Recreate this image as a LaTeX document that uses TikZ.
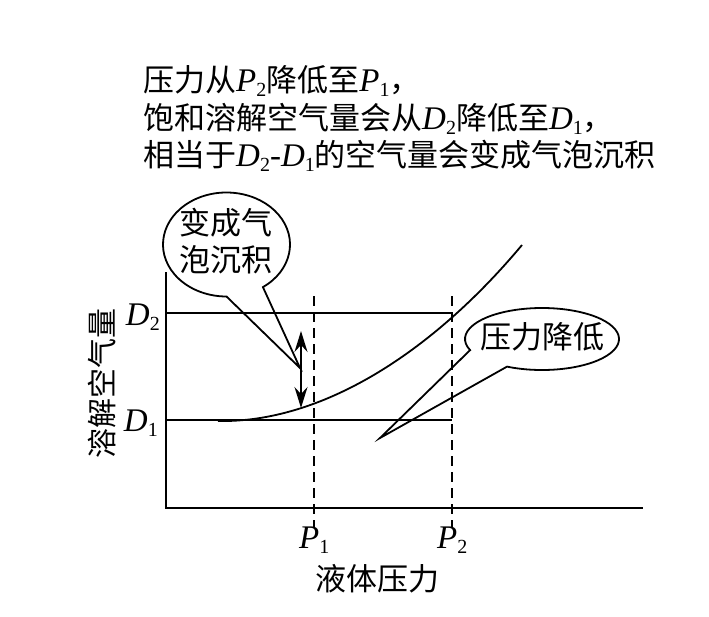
\documentclass[tikz,border=0pt]{standalone}
\usepackage{fontspec}
\setmainfont{Noto Sans CJK SC}
\newfontfamily\lsf{Liberation Serif}
\usetikzlibrary{arrows.meta}
\newcommand\vv[2]{{\lsf\itshape\fontsize{33}{33}\selectfont #1}\raisebox{-5pt}{\lsf\fontsize{20}{20}\selectfont #2}}
\begin{document}
\begin{tikzpicture}[x=1pt,y=1pt,
  every node/.style={inner sep=0pt,font=\fontsize{31}{37}\selectfont},
  axisline/.style={line width=1.8pt},
  guide/.style={line width=1.8pt,dash pattern=on 10pt off 6pt},
  bubble/.style={line width=1.8pt,line join=miter},
  dbl/.style={line width=1.8pt,{Stealth[length=21pt,width=13pt,inset=7pt]}-{Stealth[length=21pt,width=13pt,inset=7pt]}}]
\useasboundingbox (0,0) rectangle (709,-616);
% text above
\node[anchor=base west] (t1) at (143,-91) {压力从\vv{P}{2}降低至\vv{P}{1}，};
\node[anchor=base west] (t2) at (143,-129) {饱和溶解空气量会从\vv{D}{2}降低至\vv{D}{1}，};
\node[anchor=base west] (t3) at (143,-166) {相当于\vv{D}{2}{\lsf\fontsize{33}{33}\selectfont -}\vv{D}{1}的空气量会变成气泡沉积};
% axes
\coordinate (O) at (166,-508);
\coordinate (ytop) at (166,-272);
\coordinate (xend) at (643,-508);
\draw[axisline] (ytop) -- (O) -- (xend);
% levels
\coordinate (d2a) at (166,-313); \coordinate (d2b) at (452,-313);
\coordinate (d1a) at (166,-420); \coordinate (d1b) at (452,-420);
\draw[axisline] (d2a) -- (d2b);
\draw[axisline] (d1a) -- (d1b);
% dashed guides
\coordinate (p1t) at (314,-296); \coordinate (p1b) at (314,-528);
\coordinate (p2t) at (452,-296); \coordinate (p2b) at (452,-528);
\draw[guide] (p1t) -- (p1b);
\draw[guide] (p2t) -- (p2b);
% curve
\coordinate (cs) at (218,-421);
\coordinate (ce) at (522,-245);
\draw[axisline] (cs) .. controls (320,-423) and (430,-355) .. (ce);
% labels
\node[anchor=base east] (lD2) at (160,-325) {\vv{D}{2}};
\node[anchor=base east] (lD1) at (158,-431) {\vv{D}{1}};
\node[anchor=base west] (lP1) at (299,-548) {\vv{P}{1}};
\node[anchor=base west] (lP2) at (437,-548) {\vv{P}{2}};
\node (xl) at (377,-579) {液体压力};
\node[rotate=90,font=\fontsize{30}{30}\selectfont] (yl) at (102,-383) {溶解空气量};
% double arrow
\coordinate (a1) at (301,-331);
\coordinate (a2) at (301,-408);
\draw[dbl] (a1) -- (a2);
% bubble 1
\coordinate (c1) at (226.5,-244.5);
\coordinate (tip1) at (300,-368);
\draw[bubble] ([shift={(-55:63.5 and 52)}]c1) arc[start angle=-55,end angle=270,x radius=63.5,y radius=52] -- (tip1) -- cycle;
\node[align=center] (b1) at (226,-241) {变成气\\泡沉积};
% bubble 2
\coordinate (c2) at (542,-339);
\coordinate (tip2) at (380,-438);
\draw[bubble] ([shift={(-117:77 and 31)}]c2) arc[start angle=-117,end angle=201,x radius=77,y radius=31] -- (tip2) -- cycle;
\node (b2) at (542,-337) {压力降低};
\end{tikzpicture}
\end{document}
